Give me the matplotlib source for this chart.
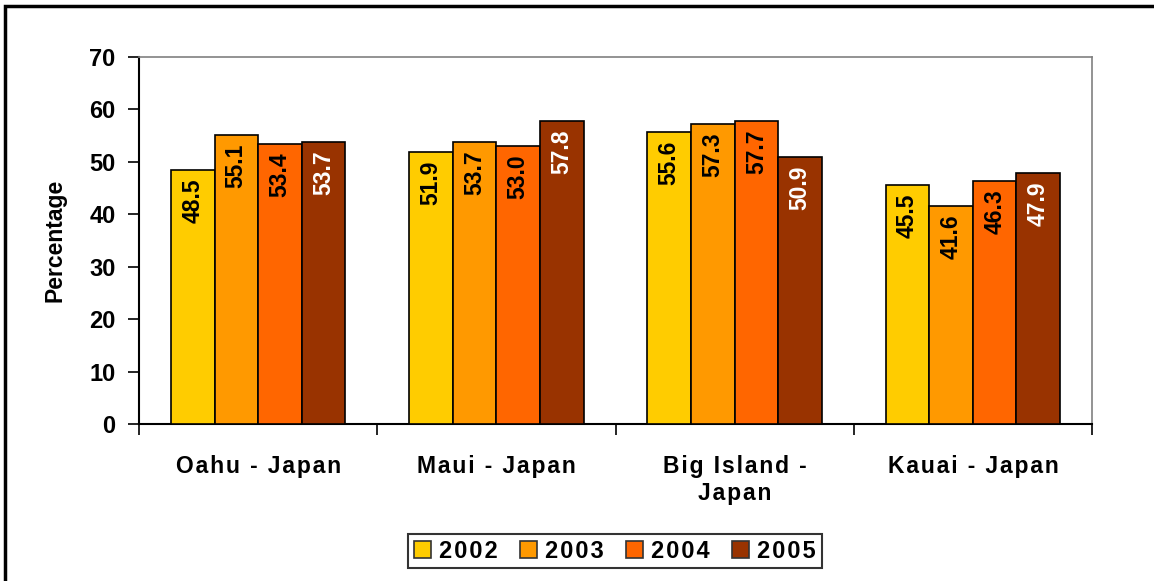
import matplotlib
matplotlib.use("Agg")
import matplotlib.pyplot as plt
from matplotlib.patches import Rectangle
import numpy as np

plt.rcParams['font.family'] = ['Liberation Sans', 'DejaVu Sans']
plt.rcParams['font.weight'] = 'bold'

categories = ["Oahu - Japan", "Maui - Japan", "Big Island -\nJapan", "Kauai - Japan"]
years = ["2002", "2003", "2004", "2005"]
values = {
    "2002": [48.5, 51.9, 55.6, 45.5],
    "2003": [55.1, 53.7, 57.3, 41.6],
    "2004": [53.4, 53.0, 57.7, 46.3],
    "2005": [53.7, 57.8, 50.9, 47.9],
}
colors = ["#FFCC00", "#FF9900", "#FF6600", "#993300"]
label_colors = ["black", "black", "black", "white"]
yticks = [0, 10, 20, 30, 40, 50, 60, 70]


def spaced(s):
    return "\n".join("\u200a".join(line) for line in s.split("\n"))


W, H = 1154, 581
fig = plt.figure(figsize=(W / 100, H / 100), dpi=100)
fig.patches.append(Rectangle((5 / W, -0.1), 1.2, 1 - 6 / H + 0.1, transform=fig.transFigure,
                             fill=False, edgecolor="black", linewidth=2.5))
ax = fig.add_axes([139 / W, 1 - 424 / H, (1092 - 139) / W, (424 - 57) / H])

n = len(categories)
x = np.arange(n)
bw = 0.183
for i, (yr, c, lc) in enumerate(zip(years, colors, label_colors)):
    pos = x + (i - 1.5) * bw
    bars = ax.bar(pos, values[yr], width=bw, color=c, edgecolor="black", linewidth=1.2, label=yr, zorder=3)
    for b, v in zip(bars, values[yr]):
        ax.annotate(f"{v:.1f}", (b.get_x() + b.get_width() / 2, v), xytext=(0, -6),
                    textcoords="offset points", rotation=90, ha="center", va="top",
                    fontsize=16.5, fontweight="bold", color=lc, zorder=4)

ax.set_xlim(-0.5, n - 0.5)
ax.set_ylim(0, 70)
ax.set_yticks(yticks)
ax.set_yticklabels([str(t) for t in yticks], fontsize=17, fontweight="bold")
ax.set_xticks(x)
ax.set_xticklabels([spaced(c) for c in categories], fontsize=16.5, fontweight="bold", linespacing=1.25)
ax.set_xticks(np.arange(-0.5, n, 1.0), minor=True)
ax.tick_params(axis="x", which="major", length=0, pad=22)
ax.tick_params(axis="x", which="minor", length=8, width=1.2, direction="out")
ax.tick_params(axis="y", length=8, width=1.2, direction="out", pad=9)

ax.set_ylabel("Percentage", fontsize=16.5, fontweight="bold", labelpad=16)

for s in ["left", "bottom"]:
    ax.spines[s].set_linewidth(1.5)
    ax.spines[s].set_color("black")
for s in ["top", "right"]:
    ax.spines[s].set_linewidth(1.2)
    ax.spines[s].set_color("#808080")

leg = fig.legend(loc="center", bbox_to_anchor=(615 / W, 1 - 551 / H), ncol=4, frameon=True,
                 fancybox=False, edgecolor="black", prop={"size": 17, "weight": "bold"},
                 handlelength=0.7, handleheight=0.7, handletextpad=0.35, columnspacing=0.95,
                 borderpad=0.25)
leg.get_frame().set_linewidth(1.5)
for t in leg.get_texts():
    t.set_text(spaced(t.get_text()))
for h in leg.legend_handles:
    h.set_edgecolor("#333333")

fig.savefig("out.png", dpi=100)
